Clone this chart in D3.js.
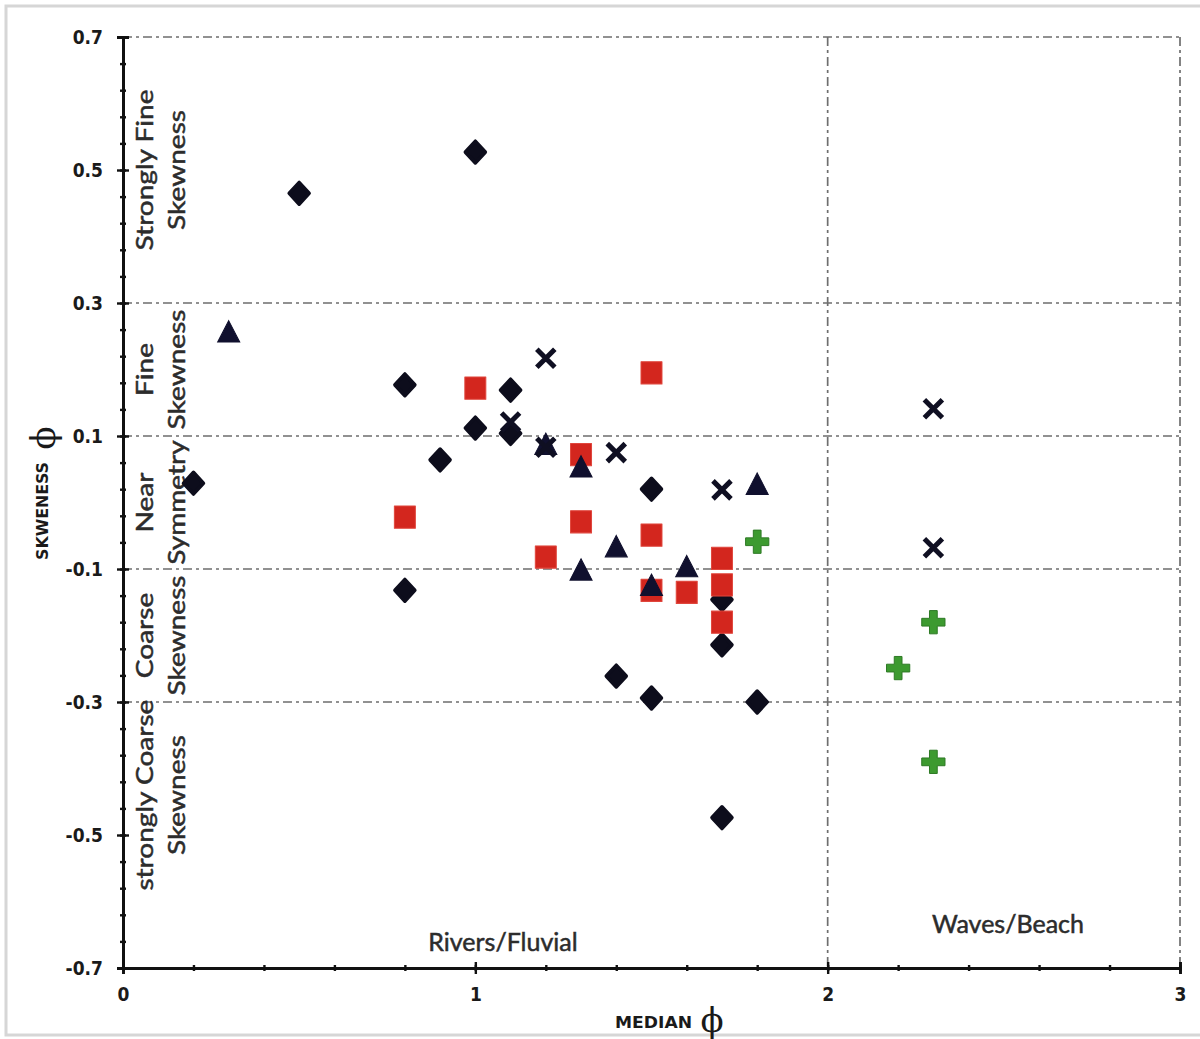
<!DOCTYPE html>
<html>
<head>
<meta charset="utf-8">
<script src="https://cdn.jsdelivr.net/npm/d3@7"></script>
<style>
body { margin: 0; background: #fff; }
</style>
</head>
<body>
<div id="chart"></div>
<script>
// values (median phi, skewness phi)
const diamondX = [0.2, 0.5, 1.0, 0.8, 1.1, 1.0, 1.1, 0.9, 0.8, 1.5, 1.4, 1.5, 1.7, 1.7, 1.8, 1.7];
const diamondY = [0.029, 0.465, 0.527, 0.177, 0.169, 0.112, 0.104, 0.064, -0.132, 0.020, -0.261, -0.294, -0.214, -0.146, -0.300, -0.474];

const squareX = [0.8, 1.0, 1.5, 1.3, 1.3, 1.2, 1.5, 1.5, 1.6, 1.7, 1.7, 1.7];
const squareY = [-0.022, 0.172, 0.195, 0.072, -0.029, -0.082, -0.049, -0.132, -0.135, -0.084, -0.124, -0.180];

const triangleX = [0.3, 1.3, 1.3, 1.4, 1.5, 1.6, 1.8, 1.2];
const triangleY = [0.252, 0.049, -0.106, -0.071, -0.129, -0.101, 0.023, 0.083];

const crossX = [1.2, 1.1, 1.2, 1.4, 1.7, 2.3, 2.3];
const crossY = [0.217, 0.121, 0.083, 0.075, 0.019, 0.141, -0.068];

const plusX = [1.8, 2.3, 2.2, 2.3];
const plusY = [-0.059, -0.180, -0.249, -0.390];

const yTicks = [0.7, 0.5, 0.3, 0.1, -0.1, -0.3, -0.5, -0.7];
const xTicks = [0, 1, 2, 3];
const hGrid = [0.7, 0.3, 0.1, -0.1, -0.3];
const vGrid = [2, 3];

const zoneLine1 = ["Strongly Fine", "Fine", "Near", "Coarse", "strongly Coarse"];
const zoneLine2 = ["Skewness", "Skewness", "Symmetry", "Skewness", "Skewness"];
const zoneMid = [0.5, 0.2, 0.0, -0.2, -0.44];

const width = 1200, height = 1039;

const svg = d3.select("#chart")
  .append("svg")
  .attr("width", width)
  .attr("height", height)
  .style("font-family", "Lato, 'Open Sans', sans-serif");

svg.append("rect").attr("width", width).attr("height", height).attr("fill", "#fff");
// faint frame of the scanned figure
svg.append("rect")
  .attr("x", 6).attr("y", 6).attr("width", 1210).attr("height", 1029)
  .attr("fill", "none").attr("stroke", "#d6d6d6").attr("stroke-width", 3);

const x = d3.scaleLinear().domain([0, 3]).range([123, 1180]);
const y = d3.scaleLinear().domain([-0.7, 0.7]).range([968, 37]);

// dash-dot grid
const dash = "9,4,3,4";
svg.selectAll(".hgrid")
  .data(hGrid)
  .enter()
  .append("line")
  .attr("x1", x(0)).attr("x2", x(3))
  .attr("y1", d => y(d)).attr("y2", d => y(d))
  .attr("stroke", "#6e6e6e").attr("stroke-width", 1.7)
  .attr("stroke-dasharray", dash);

svg.selectAll(".vgrid")
  .data(vGrid)
  .enter()
  .append("line")
  .attr("x1", d => x(d)).attr("x2", d => x(d))
  .attr("y1", y(0.7)).attr("y2", y(-0.7))
  .attr("stroke", "#6e6e6e").attr("stroke-width", 1.7)
  .attr("stroke-dasharray", dash);

// zone labels
const zoneFont = 23, zoneStretch = 1.22;
function zoneText(txt, cx, cy) {
  const t = svg.append("text")
    .attr("transform", "translate(" + cx + "," + cy + ") rotate(-90)")
    .attr("text-anchor", "middle")
    .attr("dominant-baseline", "central")
    .attr("font-size", zoneFont)
    .attr("fill", "#2c2c2c")
    .attr("stroke", "#2c2c2c").attr("stroke-width", 0.5)
    .text(txt);
  const len = t.node().getComputedTextLength();
  t.attr("textLength", len * zoneStretch).attr("lengthAdjust", "spacingAndGlyphs");
}
zoneLine1.forEach((d, i) => zoneText(d, x(0) + 21, y(zoneMid[i])));
zoneLine2.forEach((d, i) => zoneText(d, x(0) + 53, y(zoneMid[i])));

svg.append("text")
  .attr("x", 503).attr("y", 951)
  .attr("text-anchor", "middle")
  .attr("font-size", 25)
  .attr("fill", "#2c2c2c")
  .attr("stroke", "#2c2c2c").attr("stroke-width", 0.5)
  .text("Rivers/Fluvial");

svg.append("text")
  .attr("x", 1008).attr("y", 933)
  .attr("text-anchor", "middle")
  .attr("font-size", 25)
  .attr("fill", "#2c2c2c")
  .attr("stroke", "#2c2c2c").attr("stroke-width", 0.5)
  .text("Waves/Beach");

// axes
const tickFont = "'Liberation Sans Narrow', 'DejaVu Sans Condensed', sans-serif";

svg.append("g")
  .attr("transform", "translate(" + x(0) + ",0)")
  .call(d3.axisLeft(y).tickValues(yTicks).tickSize(6).tickPadding(14)
    .tickFormat(d => d.toFixed(1)));
svg.append("g")
  .attr("transform", "translate(" + x(0) + ",0)")
  .call(d3.axisRight(y).tickValues(yTicks).tickSize(6).tickFormat(""));
svg.append("g")
  .attr("transform", "translate(" + x(0) + ",0)")
  .call(d3.axisLeft(y).tickValues(d3.range(-0.66, 0.7, 0.04)).tickSize(3).tickFormat(""));
svg.append("g")
  .attr("transform", "translate(" + x(0) + ",0)")
  .call(d3.axisRight(y).tickValues(d3.range(-0.66, 0.7, 0.04)).tickSize(3).tickFormat(""));

svg.append("g")
  .attr("transform", "translate(0," + y(-0.7) + ")")
  .call(d3.axisBottom(x).tickValues(xTicks).tickSize(6).tickPadding(14)
    .tickFormat(d3.format("d")));
svg.append("g")
  .attr("transform", "translate(0," + y(-0.7) + ")")
  .call(d3.axisTop(x).tickValues(xTicks).tickSize(6).tickFormat(""));
svg.append("g")
  .attr("transform", "translate(0," + y(-0.7) + ")")
  .call(d3.axisBottom(x).tickValues(d3.range(0.2, 3, 0.2)).tickSize(3).tickFormat(""));
svg.append("g")
  .attr("transform", "translate(0," + y(-0.7) + ")")
  .call(d3.axisTop(x).tickValues(d3.range(0.2, 3, 0.2)).tickSize(3).tickFormat(""));

svg.selectAll(".domain").attr("stroke", "#111").attr("stroke-width", 2.8);
svg.selectAll(".tick line").attr("stroke", "#111").attr("stroke-width", 2.4);
svg.selectAll(".tick text")
  .attr("font-family", tickFont)
  .attr("font-weight", "bold")
  .attr("font-size", 19)
  .attr("fill", "#1a1a1a");

// axis titles
svg.append("text")
  .attr("transform", "translate(43,511) rotate(-90)")
  .attr("text-anchor", "middle")
  .attr("dominant-baseline", "central")
  .attr("font-family", tickFont)
  .attr("font-weight", "bold")
  .attr("font-size", 15)
  .attr("textLength", 98)
  .attr("lengthAdjust", "spacingAndGlyphs")
  .attr("fill", "#1a1a1a")
  .text("SKWENESS");
svg.append("text")
  .attr("transform", "translate(43,438) rotate(-90)")
  .attr("text-anchor", "middle")
  .attr("dominant-baseline", "central")
  .attr("font-family", "'DejaVu Serif', serif")
  .attr("font-size", 34)
  .attr("fill", "#1a1a1a")
  .text("ϕ");

svg.append("text")
  .attr("x", 615).attr("y", 1028)
  .attr("font-family", tickFont)
  .attr("font-weight", "bold")
  .attr("font-size", 15)
  .attr("textLength", 77)
  .attr("lengthAdjust", "spacingAndGlyphs")
  .attr("fill", "#1a1a1a")
  .text("MEDIAN");
svg.append("text")
  .attr("x", 712).attr("y", 1020)
  .attr("text-anchor", "middle")
  .attr("dominant-baseline", "central")
  .attr("font-family", "'DejaVu Serif', serif")
  .attr("font-size", 34)
  .attr("fill", "#1a1a1a")
  .text("ϕ");

// markers
const diamondPath = d3.symbol(d3.symbolSquare, 200)();
const squarePath = d3.symbol(d3.symbolSquare, 440)();
const trianglePath = d3.symbol(d3.symbolTriangle, 210)();
const plusPath = d3.symbol(d3.symbolCross, 300)();
const crossPath = "M-9,-9L9,9M-9,9L9,-9";

svg.selectAll(".diamond")
  .data(diamondX)
  .enter()
  .append("path")
  .attr("d", diamondPath)
  .attr("transform", (d, i) => "translate(" + x(d) + "," + y(diamondY[i]) + ") scale(1,1.08) rotate(45)")
  .attr("fill", "#0d0d1c")
  .attr("stroke", "#0d0d1c").attr("stroke-width", 3.5).attr("stroke-linejoin", "round");

svg.selectAll(".square")
  .data(squareX)
  .enter()
  .append("path")
  .attr("d", squarePath)
  .attr("transform", (d, i) => "translate(" + x(d) + "," + y(squareY[i]) + ") scale(1,1.06)")
  .attr("fill", "#d3261e")
  .attr("stroke", "#e0463c").attr("stroke-width", 1).attr("stroke-linejoin", "round");

svg.selectAll(".triangle")
  .data(triangleX)
  .enter()
  .append("path")
  .attr("d", trianglePath)
  .attr("transform", (d, i) => "translate(" + x(d) + "," + y(triangleY[i]) + ") scale(1,1.12)")
  .attr("fill", "#10102e")
  .attr("stroke", "#10102e").attr("stroke-width", 1);

svg.selectAll(".cross")
  .data(crossX)
  .enter()
  .append("path")
  .attr("d", crossPath)
  .attr("transform", (d, i) => "translate(" + x(d) + "," + y(crossY[i]) + ")")
  .attr("fill", "none")
  .attr("stroke", "#0f0f22").attr("stroke-width", 5);

svg.selectAll(".plus")
  .data(plusX)
  .enter()
  .append("path")
  .attr("d", plusPath)
  .attr("transform", (d, i) => "translate(" + x(d) + "," + y(plusY[i]) + ")")
  .attr("fill", "#3d9a30")
  .attr("stroke", "#2e7a25").attr("stroke-width", 1);
</script>
</body>
</html>
